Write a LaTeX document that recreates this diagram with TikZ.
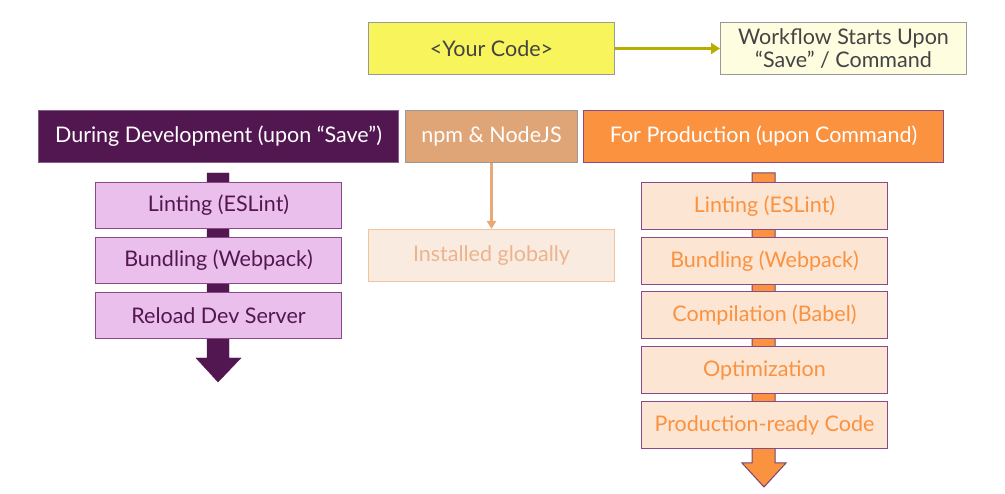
\documentclass[tikz,border=0pt]{standalone}
\usepackage{fontspec}
\setmainfont{Lato}
\usetikzlibrary{arrows.meta}
\definecolor{devpurple}{HTML}{521751}
\definecolor{pinkfill}{HTML}{EBBFEB}
\definecolor{boxborder}{HTML}{8A4A8A}
\definecolor{codeyellow}{HTML}{F8F45C}
\definecolor{olive}{HTML}{B9AE00}
\definecolor{paleyellow}{HTML}{FFFDE0}
\definecolor{darktext}{HTML}{444444}
\definecolor{npmfill}{HTML}{E0A577}
\definecolor{prodorange}{HTML}{FA923F}
\definecolor{instfill}{HTML}{FAEBE0}
\definecolor{instborder}{HTML}{F0C49C}
\definecolor{insttext}{HTML}{EBB48C}
\definecolor{peach}{HTML}{FDE5D3}
\definecolor{npmarrow}{HTML}{E8A977}
\tikzset{
  box/.style={draw, line width=1pt, minimum height=#1, inner sep=0pt, anchor=north west, font=\fontsize{21.5}{24}\selectfont},
  box/.default=52pt,
  devstep/.style={box=46pt, fill=pinkfill, draw=boxborder, text=devpurple, minimum width=246pt},
  prodstep/.style={box=47pt, fill=peach, draw=boxborder, text=prodorange, minimum width=246pt},
}
\begin{document}
\begin{tikzpicture}[x=1pt,y=-1pt]
\useasboundingbox (0,0) rectangle (1005,494);
% top row
\node[box, fill=codeyellow, draw=gray!80, text=darktext, minimum width=246pt] (code) at (368,22) {<Your Code>};
\node[box, fill=paleyellow, draw=gray!80, text=darktext, minimum width=246pt, align=center, font=\fontsize{21.5}{23}\selectfont] (wf) at (720,22) {Workflow Starts Upon\\“Save” / Command};
\draw[olive, line width=3pt, -{Triangle[length=9pt,width=11pt]}] (code.east) -- (wf.west);
% headers
\node[box, fill=devpurple, draw=devpurple!70, text=white, minimum width=360pt] (dev) at (38,110) {During Development (upon “Save”)};
\node[box, fill=npmfill, draw=gray!80, text=white, minimum width=172pt] (npm) at (405,110) {npm \& NodeJS};
\node[box, fill=prodorange, draw=boxborder, text=white, minimum width=360pt] (prod) at (583,110) {For Production (upon Command)};
% dev column arrow
\draw[fill=devpurple, draw=devpurple] (207,173) -- (229,173) -- (229,358) -- (241,358) -- (218,382) -- (196,358) -- (207,358) -- cycle;
\node[devstep] (d1) at (95,182) {Linting (ESLint)};
\node[devstep] (d2) at (95,237) {Bundling (Webpack)};
\node[devstep] (d3) at (95,292) {Reload Dev Server};
% npm
\node[box, fill=instfill, draw=instborder, text=insttext, minimum width=246pt] (inst) at (368,229) {Installed globally};
\draw[npmarrow, line width=2.5pt, -{Triangle[length=8pt,width=9pt]}] (npm.south) -- (inst.north);
% prod column arrow
\draw[fill=prodorange, draw=devpurple!80, line width=1pt] (752,173) -- (775,173) -- (775,463) -- (786,463) -- (764,487) -- (742,463) -- (752,463) -- cycle;
\node[prodstep] (p1) at (641,182) {Linting (ESLint)};
\node[prodstep] (p2) at (641,237) {Bundling (Webpack)};
\node[prodstep] (p3) at (641,291) {Compilation (Babel)};
\node[prodstep] (p4) at (641,346) {Optimization};
\node[prodstep] (p5) at (641,401) {Production-ready Code};
\end{tikzpicture}
\end{document}
